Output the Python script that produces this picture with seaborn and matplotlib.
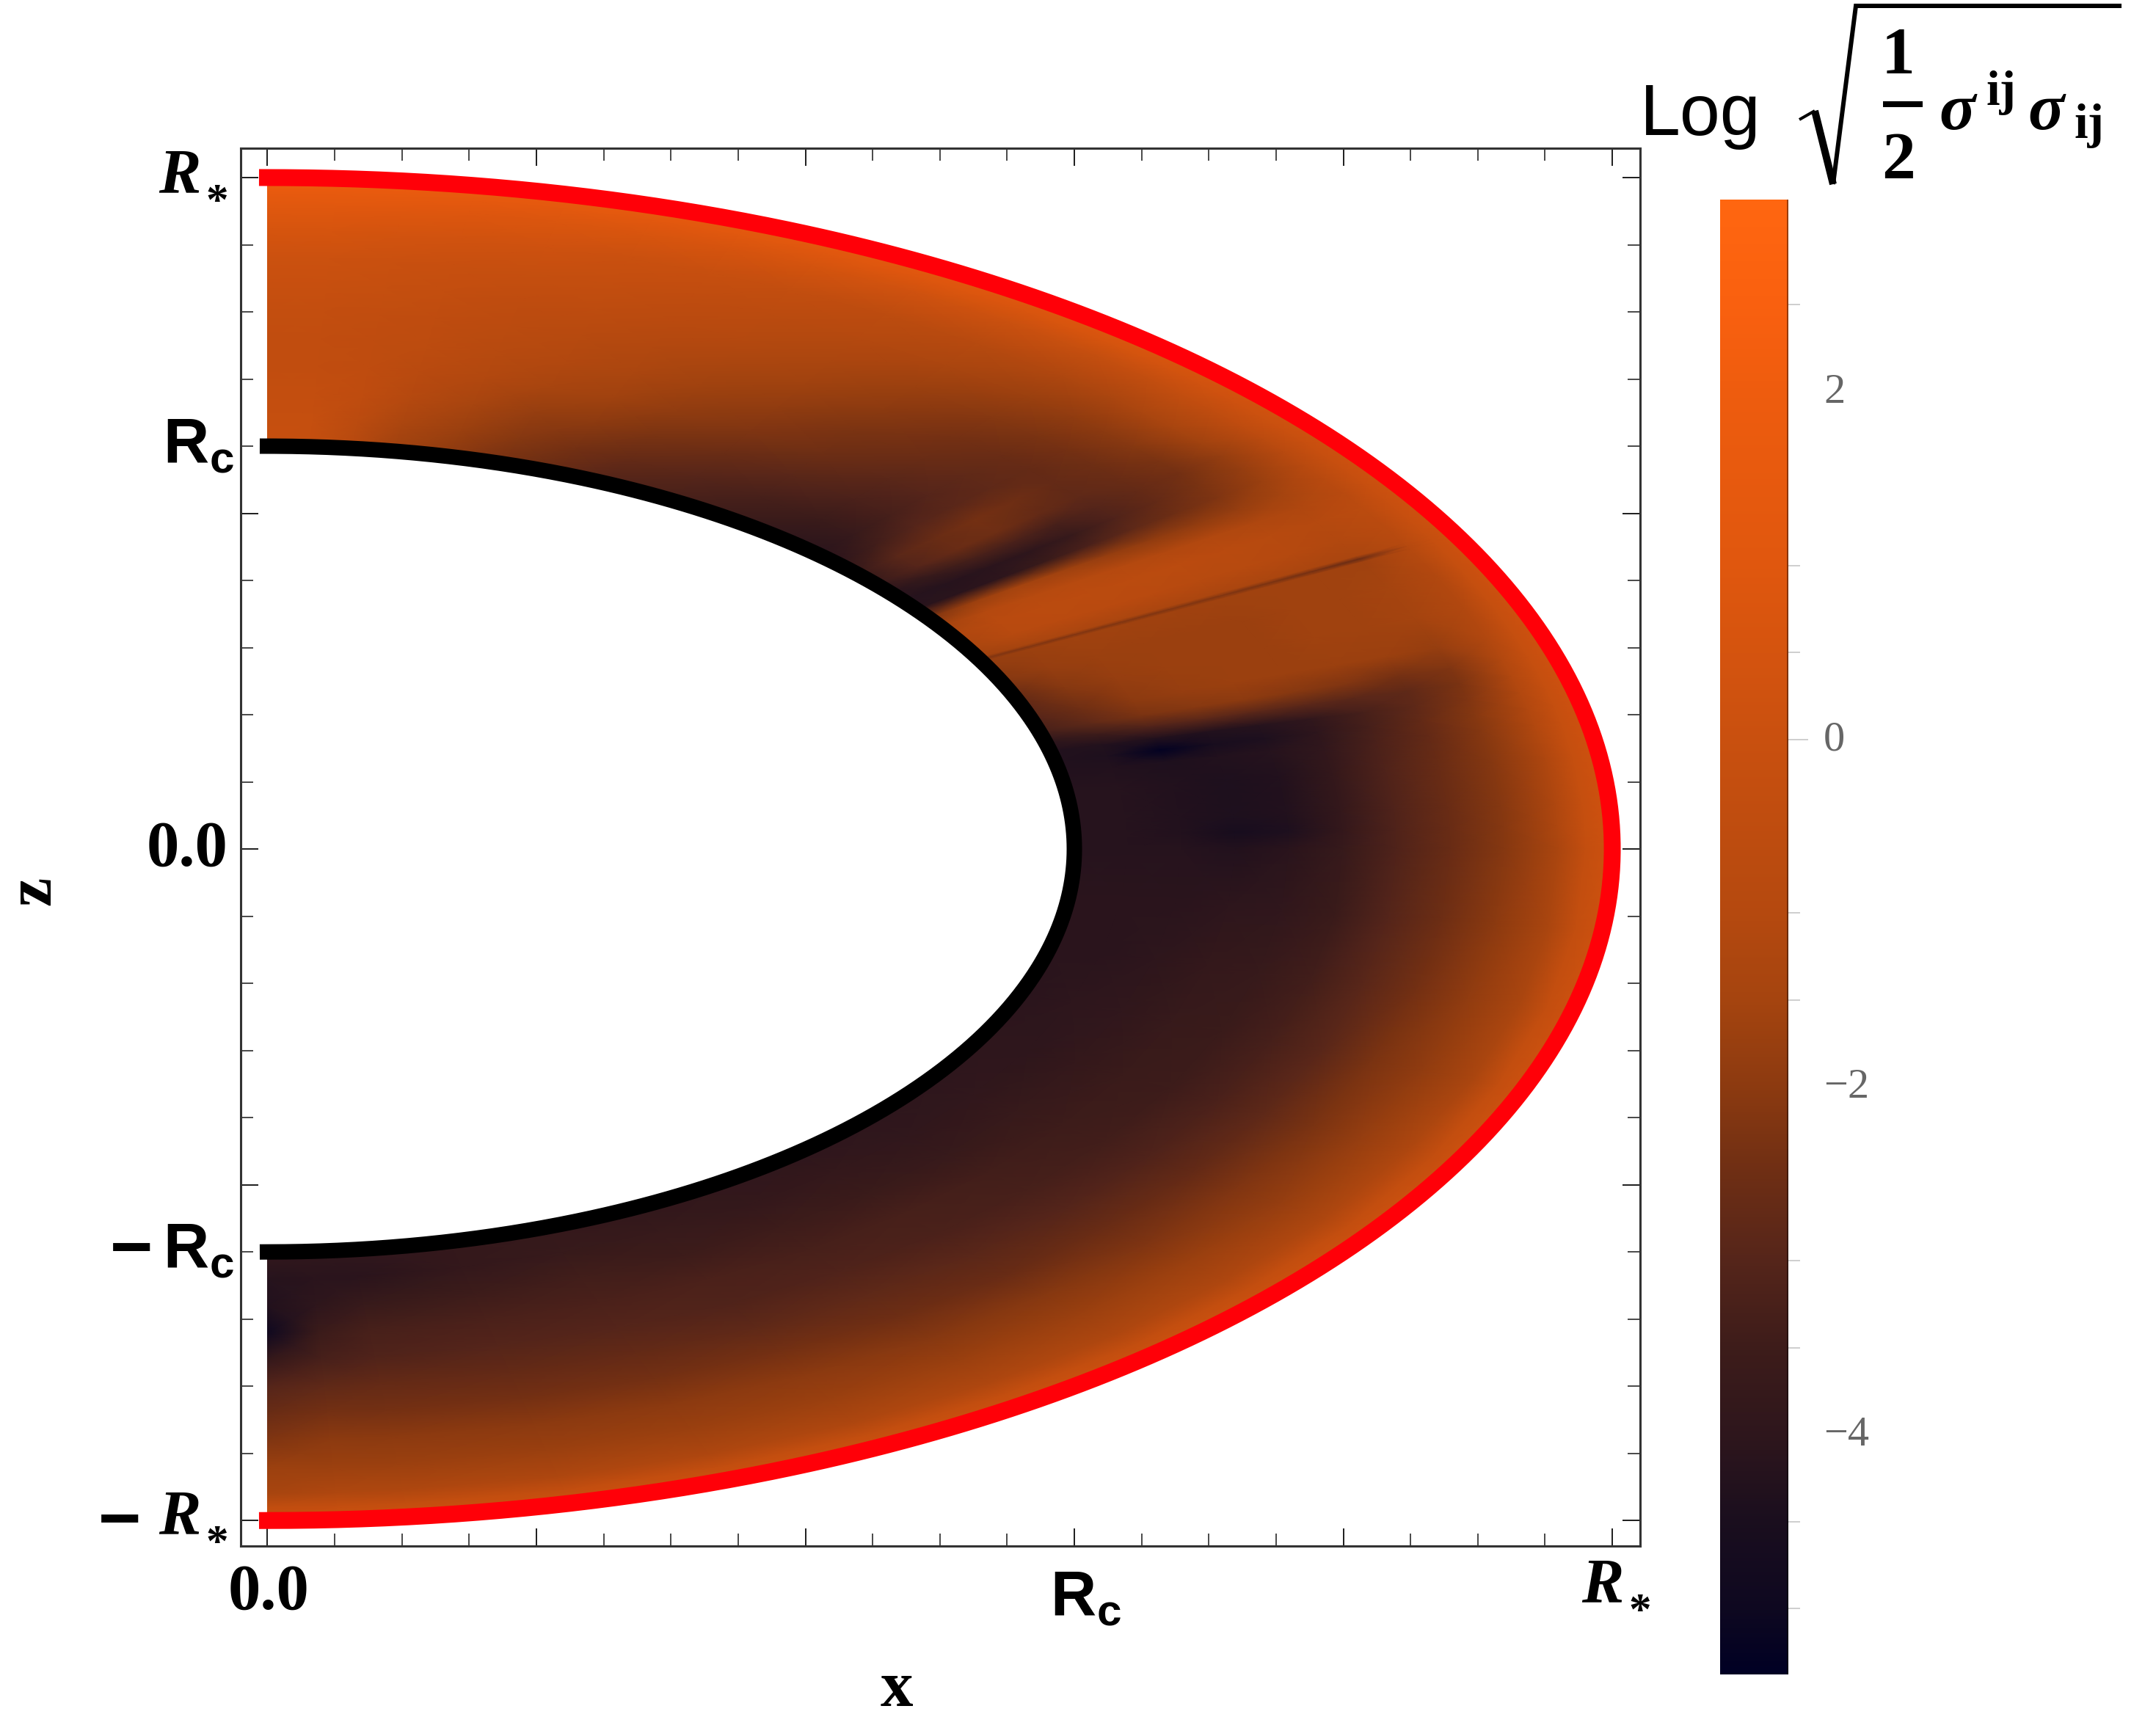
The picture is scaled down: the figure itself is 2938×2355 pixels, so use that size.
import numpy as np
import matplotlib
matplotlib.use("Agg")
import matplotlib.pyplot as plt
from matplotlib.colors import LinearSegmentedColormap, Normalize
from matplotlib.cm import ScalarMappable
from matplotlib.lines import Line2D
from matplotlib.transforms import ScaledTranslation
import seaborn as sns

W, H = 2938, 2355
R_STAR = 1.0
R_CORE = 0.6

# Stress invariant, sampled along rays of constant latitude (degrees) and
# at fixed radii. Each row below is one ray, each column one radius.
radii = [0.60, 0.64, 0.68, 0.72, 0.76, 0.80, 0.84, 0.88, 0.92, 0.96, 0.98, 1.00]
latitudes = [90, 87, 84, 81, 77, 73, 69, 65, 60, 55, 50, 47, 45, 43, 41, 39.5, 38,
             36.5, 35, 33.5, 32, 30, 28.3, 28, 27.7, 25, 22, 19, 17, 15.5, 14, 12.5,
             11, 8, 4, 2, 0, -7, -14, -21, -28, -35, -42, -49, -56, -63, -70, -77,
             -84, -87, -90]
log_sigma = [
    [-0.1, -0.2, -0.3, -0.4, -0.4, -0.3, -0.1, 0.1, 0.5, 1.1, 1.6, 2.2],
    [-0.2, -0.2, -0.3, -0.4, -0.4, -0.3, -0.1, 0.1, 0.5, 1.1, 1.6, 2.1],
    [-0.9, -0.7, -0.5, -0.5, -0.5, -0.4, -0.2, 0.0, 0.4, 1.0, 1.5, 2.0],
    [-1.6, -1.3, -1.0, -0.8, -0.6, -0.5, -0.3, -0.1, 0.3, 0.9, 1.4, 1.9],
    [-2.0, -1.7, -1.4, -1.1, -0.9, -0.7, -0.5, -0.2, 0.2, 0.8, 1.3, 1.8],
    [-2.4, -2.1, -1.8, -1.4, -1.1, -0.9, -0.6, -0.3, 0.0, 0.7, 1.2, 1.7],
    [-2.7, -2.4, -2.0, -1.6, -1.3, -1.1, -0.8, -0.5, -0.1, 0.6, 1.1, 1.6],
    [-3.1, -2.7, -2.3, -1.9, -1.6, -1.3, -1.0, -0.7, -0.3, 0.5, 1.0, 1.5],
    [-3.3, -3.0, -2.6, -2.2, -1.9, -1.6, -1.3, -1.0, -0.6, 0.3, 0.9, 1.4],
    [-3.6, -3.3, -2.9, -2.5, -2.3, -2.0, -1.7, -1.3, -0.9, 0.1, 0.7, 1.2],
    [-4.0, -3.6, -3.2, -2.9, -2.6, -2.4, -2.1, -1.7, -1.2, -0.2, 0.5, 1.0],
    [-4.1, -3.7, -3.3, -3.0, -2.8, -2.6, -2.3, -1.9, -1.3, -0.3, 0.4, 0.8],
    [-4.0, -3.4, -3.0, -2.9, -2.8, -2.7, -2.4, -2.0, -1.3, -0.3, 0.3, 0.7],
    [-3.7, -2.9, -2.6, -2.4, -2.5, -2.7, -2.5, -2.1, -1.4, -0.4, 0.2, 0.6],
    [-3.7, -3.0, -2.6, -2.5, -2.7, -2.8, -2.6, -2.3, -1.6, -0.5, 0.1, 0.5],
    [-4.1, -3.7, -3.3, -3.2, -3.3, -3.0, -2.7, -2.4, -1.8, -0.7, 0.0, 0.4],
    [-4.2, -4.2, -4.1, -4.0, -3.7, -3.1, -2.7, -2.3, -1.8, -0.8, -0.1, 0.3],
    [-4.1, -4.1, -4.0, -3.6, -3.2, -2.8, -2.5, -2.2, -1.7, -0.8, -0.1, 0.3],
    [-2.2, -1.7, -1.5, -1.6, -1.8, -1.9, -1.9, -1.8, -1.5, -0.8, -0.1, 0.3],
    [-1.5, -1.0, -0.9, -0.9, -1.0, -1.1, -1.1, -1.2, -1.2, -0.8, -0.1, 0.3],
    [-1.2, -0.8, -0.7, -0.7, -0.7, -0.7, -0.8, -0.9, -1.0, -0.7, -0.1, 0.3],
    [-1.3, -0.9, -0.8, -0.8, -0.8, -0.9, -0.9, -1.0, -1.1, -0.8, -0.1, 0.3],
    [-1.6, -1.4, -1.3, -1.3, -1.3, -1.3, -1.3, -1.3, -1.3, -0.9, -0.2, 0.3],
    [-2.2, -2.2, -2.2, -2.2, -2.2, -2.2, -2.3, -2.4, -2.6, -1.0, -0.2, 0.3],
    [-1.8, -1.7, -1.6, -1.6, -1.6, -1.6, -1.6, -1.6, -1.6, -1.0, -0.2, 0.3],
    [-2.1, -1.8, -1.7, -1.7, -1.7, -1.7, -1.6, -1.6, -1.5, -1.1, -0.2, 0.3],
    [-2.7, -2.1, -1.8, -1.7, -1.7, -1.7, -1.6, -1.6, -1.5, -1.1, -0.2, 0.3],
    [-3.0, -2.5, -2.0, -1.8, -1.7, -1.7, -1.7, -1.7, -1.8, -1.1, -0.2, 0.3],
    [-3.3, -2.8, -2.3, -2.1, -2.0, -2.1, -2.2, -2.4, -2.2, -1.1, -0.2, 0.3],
    [-4.0, -3.5, -3.1, -2.9, -2.9, -2.9, -2.9, -2.8, -2.3, -1.1, -0.2, 0.3],
    [-4.3, -4.3, -4.3, -4.3, -4.2, -3.9, -3.3, -2.8, -2.2, -1.1, -0.2, 0.3],
    [-4.3, -4.4, -5.3, -4.6, -4.4, -4.0, -3.3, -2.7, -2.1, -1.1, -0.2, 0.3],
    [-4.3, -4.3, -4.4, -4.3, -4.2, -3.9, -3.2, -2.7, -2.1, -1.1, -0.2, 0.3],
    [-4.2, -4.2, -4.3, -4.4, -4.3, -3.8, -3.1, -2.6, -2.1, -1.2, -0.2, 0.3],
    [-4.2, -4.2, -4.3, -4.4, -4.3, -3.8, -3.1, -2.6, -2.1, -1.2, -0.2, 0.3],
    [-4.2, -4.2, -4.3, -4.6, -4.4, -3.8, -3.1, -2.6, -2.1, -1.2, -0.2, 0.3],
    [-4.2, -4.2, -4.2, -4.3, -4.1, -3.7, -3.1, -2.6, -2.1, -1.3, -0.3, 0.2],
    [-4.1, -4.1, -4.1, -4.0, -3.9, -3.6, -3.0, -2.5, -2.0, -1.3, -0.3, 0.2],
    [-4.1, -4.1, -4.0, -3.8, -3.7, -3.4, -2.9, -2.4, -1.9, -1.3, -0.3, 0.2],
    [-4.1, -4.0, -3.9, -3.7, -3.6, -3.3, -2.9, -2.3, -1.9, -1.3, -0.3, 0.2],
    [-4.0, -4.0, -3.8, -3.6, -3.5, -3.2, -2.8, -2.3, -1.8, -1.2, -0.3, 0.2],
    [-4.0, -3.9, -3.7, -3.5, -3.4, -3.1, -2.7, -2.2, -1.8, -1.2, -0.3, 0.2],
    [-4.0, -3.9, -3.7, -3.4, -3.3, -3.0, -2.6, -2.2, -1.7, -1.2, -0.3, 0.2],
    [-4.0, -3.8, -3.6, -3.3, -3.2, -2.9, -2.6, -2.1, -1.7, -1.2, -0.3, 0.2],
    [-3.9, -3.8, -3.5, -3.3, -3.1, -2.8, -2.5, -2.1, -1.7, -1.2, -0.3, 0.2],
    [-3.9, -3.7, -3.5, -3.2, -3.1, -2.8, -2.4, -2.0, -1.7, -1.2, -0.3, 0.2],
    [-3.8, -3.7, -3.4, -3.2, -3.0, -2.7, -2.4, -2.0, -1.7, -1.2, -0.3, 0.2],
    [-3.8, -3.8, -3.5, -3.2, -3.0, -2.7, -2.4, -2.0, -1.7, -1.2, -0.3, 0.2],
    [-3.9, -4.1, -3.7, -3.3, -3.1, -2.7, -2.4, -2.0, -1.7, -1.2, -0.3, 0.2],
    [-3.9, -4.1, -4.0, -3.6, -3.3, -2.8, -2.4, -2.0, -1.7, -1.2, -0.3, 0.2],
    [-3.8, -4.2, -4.3, -4.9, -3.8, -3.0, -2.6, -2.2, -1.7, -1.4, -0.4, 0.1],
]

# Colour scale of the invariant
scale_levels = [-5.38, -5.0, -4.5, -4.0, -3.5, -3.0, -2.5, -2.0, -1.5, -1.0, 0.0, 1.0, 2.0, 2.5, 3.105]
scale_colors = ["#000024", "#0e0820", "#1a0e1e", "#2e161c", "#3d1c1a", "#55251a", "#6e2e14",
                "#8c3a10", "#a5440f", "#b5490f", "#c9500f", "#e0570e", "#ee5c0e", "#f9600f", "#ff6610"]
bar_label_values = [2, 0, -2, -4]
bar_minor_values = [2.5, 1, 0.5, -1, -1.5, -3, -3.5, -4.5, -5]

x_minor = [0.05, 0.10, 0.15, 0.25, 0.30, 0.35, 0.45, 0.50, 0.55, 0.65, 0.70, 0.75, 0.85, 0.90, 0.95]
x_major = [0.0, 0.2, 0.4, 0.6, 0.8, 1.0]
z_minor = [-0.9, -0.8, -0.7, -0.6, -0.4, -0.3, -0.2, -0.1, 0.1, 0.2, 0.3, 0.4, 0.6, 0.7, 0.8, 0.9]
z_major = [-1.0, -0.5, 0.0, 0.5, 1.0]

sns.set_theme(style="ticks", rc={"axes.linewidth": 1.1, "axes.edgecolor": "#333333"})
plt.rcParams["mathtext.fontset"] = "custom"
plt.rcParams["mathtext.bf"] = "Liberation Sans:bold"
plt.rcParams["mathtext.rm"] = "Liberation Sans"
plt.rcParams["mathtext.default"] = "regular"

fig = plt.figure(figsize=(W / 200, H / 200), dpi=200, facecolor="white")


def box(left, top, right, bottom):
    return [left / W, 1 - bottom / H, (right - left) / W, (bottom - top) / H]


def put(px, py, s, **kw):
    kw.setdefault("ha", "left")
    kw.setdefault("va", "baseline")
    kw.setdefault("color", "black")
    return fig.text(px / W, 1 - py / H, s, **kw)


def stroke(xs, ys, width_px, **kw):
    fig.add_artist(Line2D([x / W for x in xs], [1 - y / H for y in ys],
                          transform=fig.transFigure, color="black",
                          lw=width_px * 72 / 200, solid_capstyle="butt",
                          solid_joinstyle="miter", **kw))


ax = fig.add_axes(box(328, 202, 2235, 2107))
ax.set_facecolor("white")
ax.grid(False)
ax.set_xlim(-0.0199, 1.0207)
ax.set_ylim(-1.038, 1.0437)

cmap = LinearSegmentedColormap.from_list(
    "stress",
    [((v - scale_levels[0]) / (scale_levels[-1] - scale_levels[0]), c)
     for v, c in zip(scale_levels, scale_colors)],
    N=1024,
)
norm = Normalize(scale_levels[0], scale_levels[-1])

lat_rad = np.radians(latitudes)
rr, ll = np.meshgrid(radii, lat_rad)
ax.pcolormesh(rr * np.cos(ll), rr * np.sin(ll), np.array(log_sigma),
              shading="gouraud", cmap=cmap, norm=norm, rasterized=True)

# Outer surface and core boundary
boundary = np.radians(np.linspace(-90, 90, 721))
for radius, colour, width in [(R_STAR, "#ff0008", 23), (R_CORE, "black", 21)]:
    sns.lineplot(x=radius * np.cos(boundary), y=radius * np.sin(boundary), sort=False,
                 estimator=None, color=colour, lw=width * 72 / 200, ax=ax,
                 legend=False, solid_capstyle="projecting")
ax.set_xlabel("")
ax.set_ylabel("")

px_pt = 72 / 200
ax.set_xticks(x_major)
ax.set_xticks(x_minor, minor=True)
ax.set_yticks(z_major)
ax.set_yticks(z_minor, minor=True)
ax.tick_params(which="major", direction="in", length=24 * px_pt, width=2 * px_pt,
               top=True, right=True, bottom=True, left=True,
               labelbottom=False, labelleft=False, color="#222222")
ax.tick_params(which="minor", direction="in", length=17 * px_pt, width=1.6 * px_pt,
               top=True, right=True, bottom=True, left=True, color="#222222")

# Axis annotations
serif = dict(family="Liberation Serif", weight="bold")
bold_italic = dict(family="Liberation Serif", weight="bold", style="italic")
sans = dict(family="Liberation Sans", weight="bold")
R_C = r"$\mathbf{R}_{\mathbf{c}}$"


def star_radius(px, py):
    put(px, py, "R", fontsize=31, **bold_italic)
    put(px + 64, py + 30, "*", fontsize=22, **serif)


star_radius(216, 262)
put(222, 630, R_C, fontsize=31)
put(200, 1180, "0.0", fontsize=32, **serif)
put(150, 1733, "\u2212", fontsize=36, **sans)
put(222, 1727, R_C, fontsize=31)
put(134, 2103, "\u2212", fontsize=36, **sans)
star_radius(216, 2090)
put(366, 2193, "0.0", fontsize=32, ha="center", **serif)
put(1431, 2201, R_C, fontsize=31)
star_radius(2155, 2183)
put(1222, 2325, "x", fontsize=32, ha="center", **serif)
put(47, 1214, "z", fontsize=32, ha="center", va="center", rotation=90, **serif)

# Colour bar
cax = fig.add_axes(box(2344, 272, 2437, 2282))
bar = fig.colorbar(ScalarMappable(norm=norm, cmap=cmap), cax=cax)
bar.outline.set_visible(False)
cax.set_yticks(bar_label_values)
cax.set_yticks(bar_minor_values, minor=True)
cax.set_yticklabels(["2", "0", "\u22122", "\u22124"], family="Liberation Serif",
                    fontsize=21, color="#666666", ha="left")
cax.tick_params(which="major", direction="out", right=True, left=False, length=27 * px_pt,
                width=1.6 * px_pt, color="#c4c4c4", pad=21 * px_pt)
cax.tick_params(which="minor", direction="out", right=True, left=False, length=16 * px_pt,
                width=1.6 * px_pt, color="#c4c4c4")
for tick, value in zip(cax.yaxis.get_major_ticks(), bar_label_values):
    if value != 0:
        tick.tick2line.set_visible(False)
raise_labels = ScaledTranslation(0, 5 * px_pt / 72, fig.dpi_scale_trans)
for label in cax.get_yticklabels():
    label.set_transform(label.get_transform() + raise_labels)
cax.axvline(1, color="black", alpha=0.4, lw=4 * px_pt)

# Heading of the colour bar
put(2235, 184, "Log", family="Liberation Sans", fontsize=35.5)
stroke([2452, 2473], [163, 151], 4)
stroke([2473, 2498], [151, 251], 10)
stroke([2498, 2529, 2891], [251, 8, 8], 6)
put(2587, 100, "1", fontsize=33, ha="center", **serif)
stroke([2566, 2620], [142, 142], 8)
put(2587, 243, "2", fontsize=33, ha="center", **serif)
put(2642, 176, "\u03c3", fontsize=33, **bold_italic)
put(2706, 143, "ij", fontsize=24, **serif)
put(2763, 176, "\u03c3", fontsize=33, **bold_italic)
put(2826, 188, "ij", fontsize=24, **serif)

fig.savefig("out.png", dpi=200, facecolor="white")
